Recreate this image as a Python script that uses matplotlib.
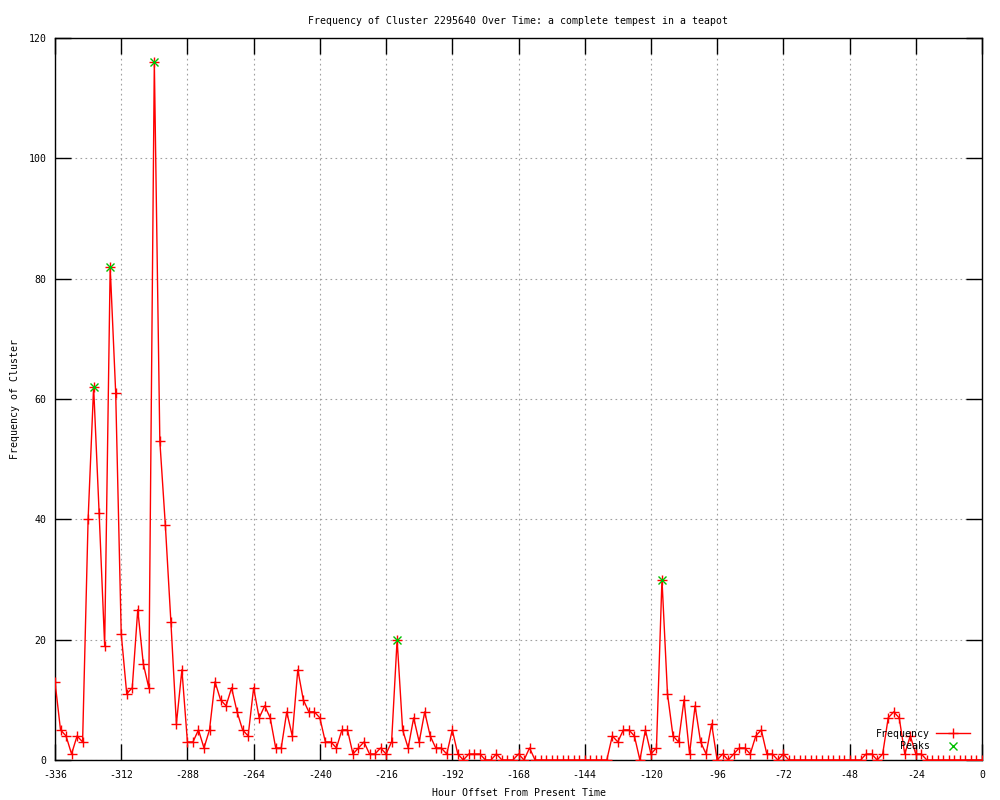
import numpy as np
import matplotlib
matplotlib.use("Agg")
import matplotlib.pyplot as plt

# ---- data ----
hours = list(range(-336, 1, 2))
frequency = [
    13, 5, 4, 1, 4, 3, 40, 62, 41, 19,          # -336 .. -318
    82, 61, 21, 11, 12, 25, 16, 12, 116, 53,    # -316 .. -298
    39, 23, 6, 15, 3, 3, 5, 2, 5, 13,           # -296 .. -278
    10, 9, 12, 8, 5, 4, 12, 7, 9, 7,            # -276 .. -258
    2, 2, 8, 4, 15, 10, 8, 8, 7, 3,             # -256 .. -238
    3, 2, 5, 5, 1, 2, 3, 1, 1, 2,               # -236 .. -218
    1, 3, 20, 5, 2, 7, 3, 8, 4, 2,              # -216 .. -198
    2, 1, 5, 1, 0, 1, 1, 1, 0, 0,               # -196 .. -178
    1, 0, 0, 0, 1, 0, 2, 0, 0, 0,               # -176 .. -158
    0, 0, 0, 0, 0, 0, 0, 0, 0, 0,               # -156 .. -138
    0, 4, 3, 5, 5, 4, 0, 5, 1, 2,               # -136 .. -118
    30, 11, 4, 3, 10, 1, 9, 3, 1, 6,            # -116 .. -98
    0, 1, 0, 1, 2, 2, 1, 4, 5, 1,               # -96 .. -78
    1, 0, 1, 0, 0, 0, 0, 0, 0, 0,               # -76 .. -58
    0, 0, 0, 0, 0, 0, 0, 1, 1, 0,               # -56 .. -38
    1, 7, 8, 7, 1, 4, 1, 1, 0, 0,               # -36 .. -18
    0, 0, 0, 0, 0, 0, 0, 0, 0,                  # -16 .. 0
]
assert len(frequency) == len(hours)

peak_hours = [-322, -316, -300, -212, -116]
peak_values = [62, 82, 116, 20, 30]

x_ticks = list(range(-336, 1, 24))
y_ticks = list(range(0, 121, 20))

title = "Frequency of Cluster 2295640 Over Time: a complete tempest in a teapot"
xlabel = "Hour Offset From Present Time"
ylabel = "Frequency of Cluster"

# ---- style ----
FONT = "DejaVu Sans Mono"
FS = 7.1
plt.rcParams["font.family"] = FONT
plt.rcParams["font.size"] = FS

fig = plt.figure(figsize=(10, 8), dpi=100)
ax = fig.add_axes([0.055, 0.05, 0.927, 0.9025])

ax.plot(hours, frequency, color="#ff0000", linewidth=1.0, marker="+",
        markersize=6.5, markeredgewidth=1.0, label="Frequency", zorder=3)
ax.plot(peak_hours, peak_values, linestyle="none", marker="x",
        color="#00c000", markersize=5.5, markeredgewidth=1.0, label="Peaks", zorder=4)

ax.set_xlim(-336, 0)
ax.set_ylim(0, 120)
ax.set_xticks(x_ticks)
ax.set_yticks(y_ticks)
ax.set_xticklabels([str(t) for t in x_ticks])

ax.tick_params(direction="in", length=11.5, width=1.0, top=True, right=True,
               labelsize=FS, pad=6)
ax.tick_params(axis="x", pad=7)
ax.grid(True, color="#a0a0a0", linestyle=(0, (1.5, 3)), linewidth=0.8)
ax.set_axisbelow(True)
for s in ax.spines.values():
    s.set_linewidth(1.0)
    s.set_color("black")

ax.set_title(title, fontsize=FS, pad=10)
ax.set_xlabel(xlabel, fontsize=FS, labelpad=6)
ax.set_ylabel(ylabel, fontsize=FS, labelpad=6)

leg = ax.legend(loc="lower right", bbox_to_anchor=(0.970, 0.061),
                bbox_transform=fig.transFigure, frameon=False, markerfirst=False,
                handlelength=3.4, handletextpad=0.7, labelspacing=0.25,
                borderpad=0, borderaxespad=0, fontsize=FS)

fig.savefig("out.png", dpi=100)
